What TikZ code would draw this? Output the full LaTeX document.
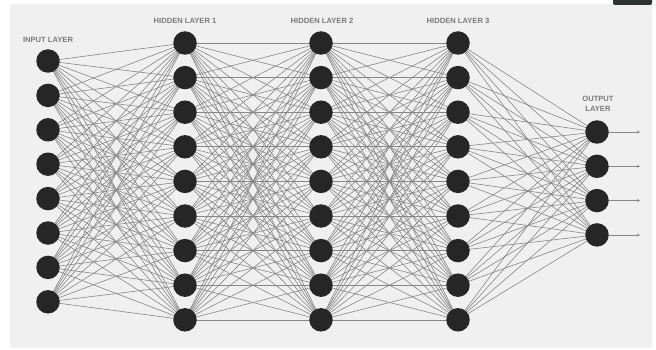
\documentclass[tikz,border=0pt]{standalone}
\usepackage{fontspec}
\setmainfont{Liberation Sans}
\usetikzlibrary{arrows.meta, positioning, backgrounds}
\definecolor{paperGray}{HTML}{F0F0F0}
\definecolor{neuronDark}{HTML}{262626}
\definecolor{linkGray}{HTML}{878787}
\definecolor{labelGray}{HTML}{7A7A7A}
\definecolor{barDark}{HTML}{2C3432}

\begin{document}
\begin{tikzpicture}[x=1pt, y=-1pt,
  neuron/.style={circle, fill=neuronDark, minimum size=23.5pt, inner sep=0pt},
  link/.style={draw=linkGray, line width=0.6pt},
  layerlabel/.style={text=labelGray, font=\bfseries\fontsize{7.6}{9.5}\selectfont, align=center, inner sep=0pt}]
\useasboundingbox (0,0) rectangle (656,350);
% neurons
\foreach \i in {1,...,8} \node[neuron] (I-\i) at (48,{61+(\i-1)*34.4}) {};
\foreach \l/\x in {1/185,2/321,3/458}
  \foreach \i in {1,...,9} \node[neuron] (H\l-\i) at (\x,{43+(\i-1)*34.6}) {};
\foreach \i in {1,...,4} \node[neuron] (O-\i) at (597,{132+(\i-1)*34.3}) {};
\foreach \i in {1,...,4} \coordinate (out-\i) at (640,{132+(\i-1)*34.3});
% labels
\node[layerlabel] (lab-in) at (48,40) {INPUT LAYER};
\node[layerlabel] (lab-h1) at (185,21) {HIDDEN LAYER 1};
\node[layerlabel] (lab-h2) at (322,21) {HIDDEN LAYER 2};
\node[layerlabel] (lab-h3) at (458,21) {HIDDEN LAYER 3};
\node[layerlabel] (lab-out) at (598,104) {OUTPUT\\LAYER};
% connections
\begin{scope}[on background layer]
\fill[paperGray] (10,4) rectangle (652,348);
\fill[barDark, rounded corners=2pt] (613,-3) rectangle (652,5);
\foreach \i in {1,...,8} \foreach \j in {1,...,9} \draw[link] (I-\i.center) -- (H1-\j.center);
\foreach \i in {1,...,9} \foreach \j in {1,...,9} {
  \draw[link] (H1-\i.center) -- (H2-\j.center);
  \draw[link] (H2-\i.center) -- (H3-\j.center);
}
\foreach \i in {1,...,9} \foreach \j in {1,...,4} \draw[link] (H3-\i.center) -- (O-\j.center);
\end{scope}
\foreach \i in {1,...,4} \draw[link, -{Stealth[length=3pt, width=3pt]}] (O-\i) -- (out-\i);
\end{tikzpicture}
\end{document}
